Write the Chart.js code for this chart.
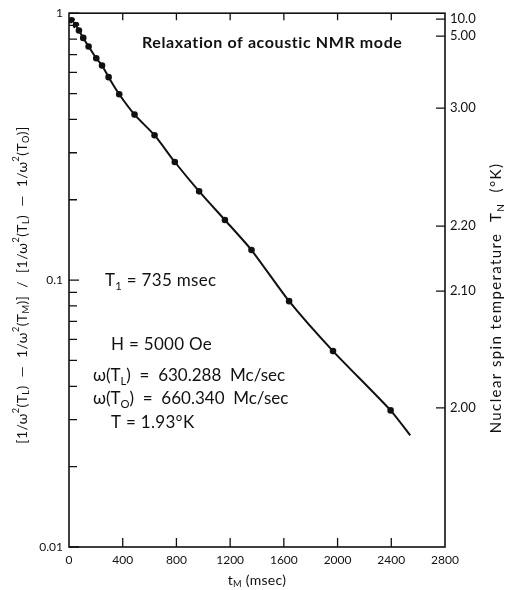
<!DOCTYPE html>
<html>
<head>
<meta charset="utf-8">
<script src="https://cdn.jsdelivr.net/npm/chart.js@4/dist/chart.umd.min.js"></script>
<style>
  html, body { margin: 0; padding: 0; background: #fff; }
</style>
</head>
<body>
<canvas id="myChart" width="505" height="590"></canvas>
<script>
// measurement times t_M (msec)
let tM = [20, 52, 74, 106, 146, 203, 246, 295, 374, 488, 637, 788, 969, 1161, 1359, 1639, 1966, 2395];
// normalised ratio [1/w2(TL) - 1/w2(TM)] / [1/w2(TL) - 1/w2(TO)]
let ratio = [0.941, 0.902, 0.861, 0.808, 0.750, 0.678, 0.637, 0.576, 0.497, 0.417, 0.349, 0.277, 0.215, 0.168, 0.1296, 0.0834, 0.0542, 0.0325];
// the smooth curve goes through the points and runs on past the last one
let curveT = [...tM, 2541];
let curveR = [...ratio, 0.0262];
// nuclear spin temperature scale on the right: label and the ratio it sits at
let tempLabels = ['10.0', '5.00', '3.00', '2.20', '2.10', '2.00'];
let tempRatio = [0.950, 0.820, 0.441, 0.1593, 0.0910, 0.0332];
// x ticks and the labelled decades on the left
let xTicks = [0, 400, 800, 1200, 1600, 2000, 2400, 2800];
let decades = [0.01, 0.1, 1];
let decadeLabels = ['0.01', '0.1', '1'];

const FONT = "Lato, 'DejaVu Sans', sans-serif";
const INK = '#111';

// left axis ticks: 1..9 in every decade
let logTicks = [];
for (let d = 0; d < decades.length - 1; d++) {
  for (let m = 1; m < 10; m++) logTicks.push(decades[d] * m);
}
logTicks.push(1);

// draws text made of pieces, some raised or lowered ('sup' / 'sub')
function setFont(ctx, p, size) {
  const s = p[1] ? size * 0.66 : size;
  ctx.font = (p[2] || '') + ' ' + s + 'px ' + FONT;
}
function richWidth(ctx, parts, size) {
  let w = 0;
  parts.forEach(p => {
    setFont(ctx, p, size);
    w += ctx.measureText(p[0]).width;
  });
  return w;
}
function drawRich(ctx, parts, x, y, size, align, spacing) {
  ctx.letterSpacing = (spacing || 0) + 'px';
  let cx = align === 'center' ? x - richWidth(ctx, parts, size) / 2 : x;
  parts.forEach(p => {
    const dy = p[1] === 'sup' ? -size * 0.42 : p[1] === 'sub' ? size * 0.32 : 0;
    setFont(ctx, p, size);
    ctx.fillText(p[0], cx, y + dy);
    cx += ctx.measureText(p[0]).width;
  });
  ctx.letterSpacing = '0px';
}

const decor = {
  id: 'decor',
  afterDraw(chart) {
    const { ctx, chartArea: a, scales } = chart;
    ctx.save();
    ctx.strokeStyle = INK;
    ctx.fillStyle = INK;

    // frame
    ctx.lineWidth = 1.6;
    ctx.strokeRect(a.left, a.top, a.right - a.left, a.bottom - a.top);

    // tick marks, all pointing into the plot
    ctx.lineWidth = 1.3;
    ctx.beginPath();
    xTicks.slice(1, -1).forEach(v => {
      const px = scales.x.getPixelForValue(v);
      ctx.moveTo(px, a.bottom); ctx.lineTo(px, a.bottom - 9);
      ctx.moveTo(px, a.top); ctx.lineTo(px, a.top + 7);
    });
    logTicks.forEach(v => {
      const py = scales.y.getPixelForValue(v);
      const major = decades.includes(v);
      ctx.moveTo(a.left, py); ctx.lineTo(a.left + (major ? 10 : 8), py);
    });
    tempRatio.forEach(v => {
      const py = scales.yT.getPixelForValue(v);
      ctx.moveTo(a.right, py); ctx.lineTo(a.right - 9, py);
    });
    ctx.stroke();

    ctx.textBaseline = 'middle';
    ctx.textAlign = 'left';

    // title inside the plot
    drawRich(ctx, [['Relaxation of acoustic NMR mode', null, 'bold']], 142, 43, 16, 'left', 0.6);

    // run parameters
    const S = 17;
    drawRich(ctx, [['T'], ['1', 'sub'], [' = 735 msec']], 105, 281, S, 'left', 0.3);
    drawRich(ctx, [['H = 5000 Oe']], 111, 345, S, 'left', 0.3);
    drawRich(ctx, [['ω(T'], ['L', 'sub'], [')  =  630.288  Mc/sec']], 93, 376, S);
    drawRich(ctx, [['ω(T'], ['O', 'sub'], [')  =  660.340  Mc/sec']], 93, 399, S);
    drawRich(ctx, [['T = 1.93°K']], 111, 423, S, 'left', 0.3);

    // x axis title
    drawRich(ctx, [['t'], ['M', 'sub'], [' (msec)']], (a.left + a.right) / 2, 580, 14, 'center', 0.3);

    // left axis title, read bottom to top
    ctx.save();
    ctx.translate(22, 285);
    ctx.rotate(-Math.PI / 2);
    drawRich(ctx, [
      ['[1/ω'], ['2', 'sup'], ['(T'], ['L', 'sub'], [')  —  1/ω'], ['2', 'sup'], ['(T'], ['M', 'sub'], [')]'],
      ['  /  [1/ω'], ['2', 'sup'], ['(T'], ['L', 'sub'], [')  —  1/ω'], ['2', 'sup'], ['(T'], ['O', 'sub'], [')]']
    ], 0, 0, 14, 'center', 0.4);
    ctx.restore();

    // right axis title
    ctx.save();
    ctx.translate(496, 298);
    ctx.rotate(-Math.PI / 2);
    drawRich(ctx, [['Nuclear spin temperature  T'], ['N', 'sub'], ['  (°K)']], 0, 0, 15, 'center', 1.4);
    ctx.restore();

    ctx.restore();
  }
};

let myChart = document.getElementById('myChart').getContext('2d');

let chart = new Chart(myChart, {
  type: 'scatter',
  data: {
    datasets: [
      {
        // fitted curve
        data: curveT.map((t, i) => ({ x: t, y: curveR[i] })),
        showLine: true,
        borderColor: INK,
        borderWidth: 2,
        pointRadius: 0,
        tension: 0.2,
        yAxisID: 'y'
      },
      {
        // measured points
        data: tM.map((t, i) => ({ x: t, y: ratio[i] })),
        showLine: false,
        pointRadius: 4,
        pointBackgroundColor: INK,
        pointBorderColor: '#fff',
        pointBorderWidth: 1.4,
        yAxisID: 'y'
      }
    ]
  },
  options: {
    responsive: false,
    animation: false,
    devicePixelRatio: 1,
    layout: { padding: { top: 12, left: 0, right: 0, bottom: 0 } },
    plugins: {
      legend: { display: false },
      tooltip: { enabled: false }
    },
    scales: {
      x: {
        type: 'linear',
        min: 0,
        max: 2800,
        grid: { display: false, drawTicks: false },
        border: { display: false },
        afterBuildTicks: s => { s.ticks = xTicks.map(v => ({ value: v })); },
        afterFit: s => { s.height = 43; },
        ticks: {
          color: INK,
          padding: 6,
          font: { family: FONT, size: 12 },
          maxRotation: 0,
          callback: v => String(v)
        }
      },
      y: {
        type: 'logarithmic',
        position: 'left',
        min: 0.01,
        max: 1,
        grid: { display: false, drawTicks: false },
        border: { display: false },
        afterBuildTicks: s => { s.ticks = decades.map(v => ({ value: v })); },
        afterFit: s => { s.width = 69; },
        ticks: {
          color: INK,
          padding: 6,
          font: { family: FONT, size: 12 },
          callback: (v, i) => decadeLabels[i]
        }
      },
      yT: {
        type: 'logarithmic',
        position: 'right',
        min: 0.01,
        max: 1,
        grid: { display: false, drawTicks: false },
        border: { display: false },
        afterBuildTicks: s => { s.ticks = tempRatio.map(v => ({ value: v })); },
        afterFit: s => { s.width = 60; },
        ticks: {
          color: INK,
          padding: 5,
          font: { family: FONT, size: 13 },
          callback: (v, i) => tempLabels[i]
        }
      }
    }
  },
  plugins: [decor]
});
</script>
</body>
</html>
